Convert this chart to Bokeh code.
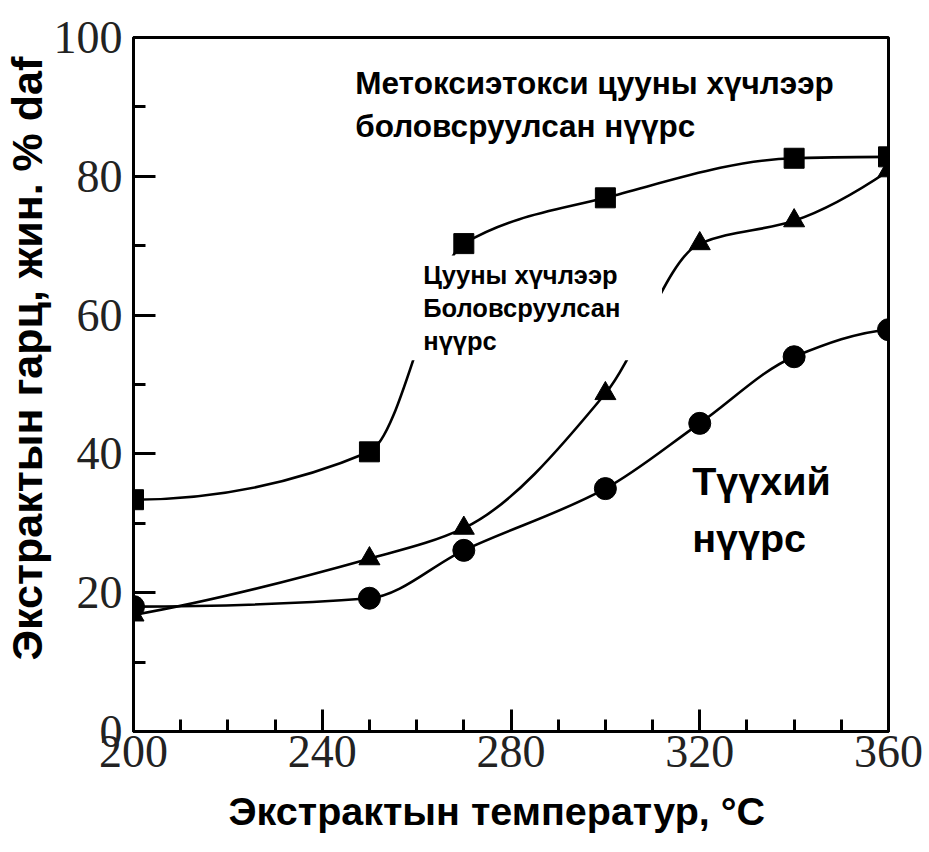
import numpy as np
from bokeh.plotting import figure
from bokeh.models import Range1d, Label, BoxAnnotation, FixedTicker, ColumnDataSource, Title
from bokeh.embed import file_html
from bokeh.resources import INLINE

# Extract yield (wt. % daf) versus extraction temperature (°C)
temp_methoxy = [200, 250, 270, 300, 340, 360]
yield_methoxy = [33.4, 40.3, 70.3, 76.9, 82.6, 82.8]

temp_acetic = [200, 250, 270, 300, 320, 340, 360]
yield_acetic = [16.8, 24.9, 29.3, 48.7, 70.3, 73.6, 80.8]

temp_raw = [200, 250, 270, 300, 320, 340, 360]
yield_raw = [18.0, 19.2, 26.1, 35.0, 44.4, 54.0, 57.9]

x_major = [200, 240, 280, 320, 360]
x_minor = list(range(200, 361, 10))
y_major = [0, 20, 40, 60, 80, 100]
y_minor = list(range(0, 101, 10))

x_title = "Экстрактын температур, °C"
y_title = "Экстрактын гарц, жин. % daf"


def smooth_segments(xs, ys):
    """Monotone cubic (Fritsch-Carlson) curve through the points, as Bezier segments."""
    x = np.asarray(xs, float)
    y = np.asarray(ys, float)
    h = np.diff(x)
    d = np.diff(y) / h
    n = len(x)
    m = np.zeros(n)
    for k in range(1, n - 1):
        if d[k - 1] * d[k] > 0:
            w1 = 2 * h[k] + h[k - 1]
            w2 = h[k] + 2 * h[k - 1]
            m[k] = (w1 + w2) / (w1 / d[k - 1] + w2 / d[k])

    def end_slope(h0, h1, d0, d1):
        s = ((2 * h0 + h1) * d0 - h0 * d1) / (h0 + h1)
        if s * d0 <= 0:
            return 0.0
        if d0 * d1 < 0 and abs(s) > 3 * abs(d0):
            return 3 * d0
        return s

    m[0] = end_slope(h[0], h[1], d[0], d[1])
    m[-1] = end_slope(h[-1], h[-2], d[-1], d[-2])
    return ColumnDataSource(dict(
        x0=x[:-1], y0=y[:-1], x1=x[1:], y1=y[1:],
        cx0=x[:-1] + h / 3, cy0=y[:-1] + m[:-1] * h / 3,
        cx1=x[1:] - h / 3, cy1=y[1:] - m[1:] * h / 3,
    ))


p = figure(
    width=929, height=852,
    x_range=Range1d(200, 360), y_range=Range1d(0, 100),
    output_backend="svg", toolbar_location=None,
    min_border_left=133, min_border_right=41,
    min_border_top=37, min_border_bottom=121,
)
p.background_fill_color = "white"
p.border_fill_color = "white"
p.outline_line_color = "black"
p.outline_line_width = 3
p.xgrid.visible = False
p.ygrid.visible = False

for ax in (p.xaxis[0], p.yaxis[0]):
    ax.axis_line_width = 3
    ax.axis_line_color = "black"
    ax.major_tick_line_width = 3
    ax.minor_tick_line_width = 3
    ax.major_tick_in = 22
    ax.major_tick_out = 0
    ax.minor_tick_in = 12
    ax.minor_tick_out = 0
    ax.major_label_text_font = "Liberation Serif"
    ax.major_label_text_font_size = "46px"
    ax.major_label_text_color = "#222222"

p.xaxis.ticker = FixedTicker(ticks=x_major, minor_ticks=x_minor)
p.yaxis.ticker = FixedTicker(ticks=y_major, minor_ticks=y_minor)
p.xaxis.major_label_standoff = 4
p.yaxis.major_label_standoff = 11

# axis titles as side titles, so they can be placed along the axis
title_kw = dict(text_font="Liberation Sans", text_font_style="bold", text_color="black",
                align="left")
p.add_layout(Title(text=y_title, text_font_size="43px", standoff=0, offset=71, **title_kw), "left")
p.add_layout(Title(text=x_title, text_font_size="39.5px", standoff=34, offset=95, **title_kw), "below")

line_kw = dict(line_color="black", line_width=2.6)

for xs, ys in ((temp_methoxy, yield_methoxy), (temp_acetic, yield_acetic), (temp_raw, yield_raw)):
    p.bezier(x0="x0", y0="y0", x1="x1", y1="y1", cx0="cx0", cy0="cy0",
             cx1="cx1", cy1="cy1", source=smooth_segments(xs, ys), **line_kw)

p.scatter(temp_methoxy, yield_methoxy, marker="square", size=20, color="black")
p.scatter(temp_acetic, yield_acetic, marker="triangle", size=21, color="black")
p.scatter(temp_raw, yield_raw, marker="circle", size=22, color="black")

# white panel behind the in-plot label for the acid-treated coal curve
p.add_layout(BoxAnnotation(left=257.5, right=312.0, bottom=53.5, top=68.6,
                           fill_color="white", fill_alpha=1.0, line_alpha=0.0))

label_kw = dict(text_font="Liberation Sans", text_font_style="bold", text_color="black")

p.add_layout(Label(x=247.0, y=96.0, text="Метоксиэтокси цууны хүчлээр\nболовсруулсан нүүрс",
                   text_font_size="31.5px", text_line_height=1.2, text_baseline="top", **label_kw))
p.add_layout(Label(x=261.4, y=67.8, text="Цууны хүчлээр\nБоловсруулсан\nнүүрс",
                   text_font_size="25.5px", text_line_height=1.18, text_baseline="top", **label_kw))
p.add_layout(Label(x=318.4, y=39.2, text="Түүхий\nнүүрс",
                   text_font_size="39.5px", text_line_height=1.28, text_baseline="top", **label_kw))

open("out.html", "w").write(file_html(p, INLINE))
